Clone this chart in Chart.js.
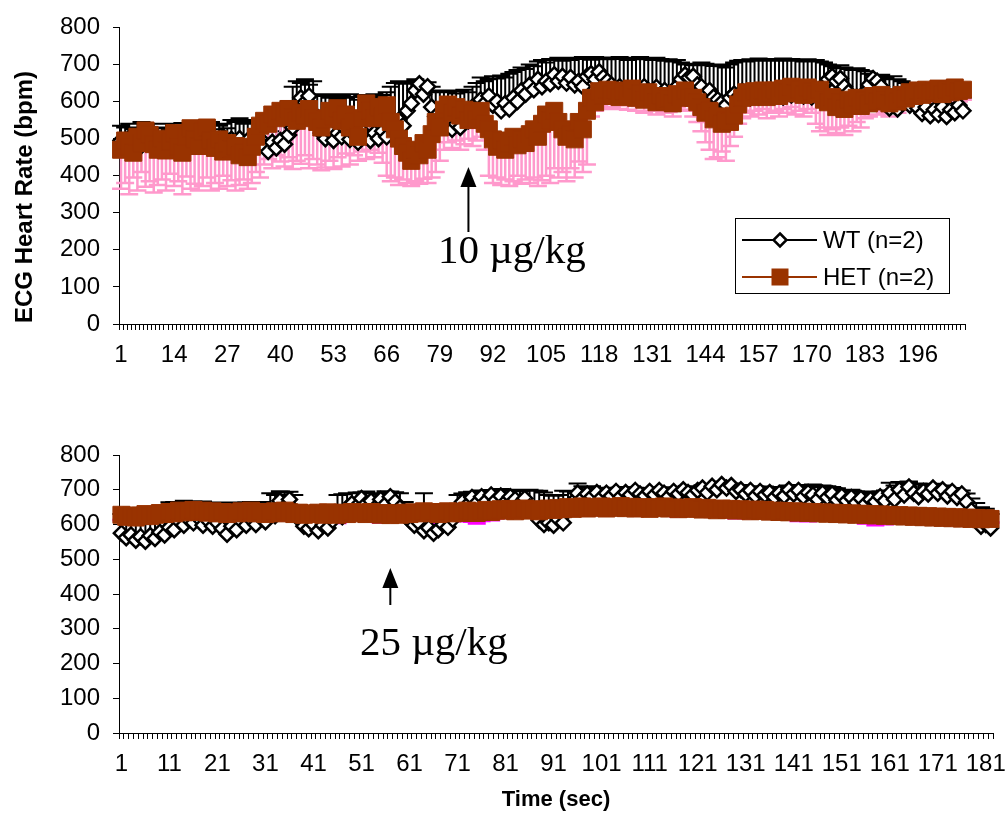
<!DOCTYPE html>
<html>
<head>
<meta charset="utf-8">
<script src="https://cdn.jsdelivr.net/npm/chart.js@4.4.1/dist/chart.umd.min.js"></script>
<style>
  html, body { margin: 0; padding: 0; background: #fff; }
  body { width: 1008px; height: 817px; position: relative; overflow: hidden; }
  canvas { position: absolute; left: 0; }
</style>
</head>
<body>
<canvas id="doseTen" width="1008" height="395" style="top:0px"></canvas>
<canvas id="doseTwentyFive" width="1008" height="417" style="top:400px"></canvas>
<script>
// ---- 10 µg/kg run: mean heart rate (bpm) per second, with SD ----
const wtTop = [
  495, 478, 502, 485, 470, 498, 510, 488, 500, 475,
  492, 505, 480, 498, 470, 488, 505, 492, 510, 485,
  500, 482, 495, 475, 490, 505, 478, 498, 485, 500,
  480, 495, 470, 488, 500, 478, 465, 490, 475, 495,
  485, 510, 530, 575, 610, 598, 615, 570, 535, 515,
  500, 520, 495, 515, 505, 525, 498, 512, 490, 520,
  505, 495, 515, 500, 520, 505, 530, 515, 550, 535,
  575, 595, 630, 648, 620, 640, 585, 560, 535, 550,
  545, 525, 540, 530, 560, 548, 585, 570, 605, 595,
  615, 590, 600, 575, 595, 580, 610, 600, 630, 620,
  645, 632, 660, 640, 655, 648, 672, 655, 668, 650,
  665, 645, 655, 640, 668, 675, 660, 680, 665, 655,
  645, 630, 640, 625, 632, 615, 628, 620, 640, 630,
  625, 638, 615, 630, 620, 612, 640, 660, 672, 665,
  668, 645, 640, 620, 630, 612, 605, 598, 590, 610,
  620, 612, 628, 618, 610, 622, 612, 630, 618, 628,
  620, 632, 612, 625, 618, 635, 622, 615, 628, 612,
  630, 622, 645, 660, 668, 655, 662, 640, 625, 608,
  612, 600, 625, 645, 662, 655, 640, 595, 582, 590,
  580, 598, 605, 590, 600, 582, 568, 585, 562, 578,
  565, 585, 560, 578, 570, 590, 575
];
const wtTopErr = [
  40, 52, 38, 40, 60, 47, 25, 42, 40, 53,
  38, 35, 45, 37, 60, 54, 23, 43, 35, 45,
  38, 48, 50, 50, 45, 35, 50, 52, 60, 55,
  60, 55, 75, 37, 15, 52, 80, 30, 65, 60,
  75, 90, 110, 80, 40, 62, 30, 85, 85, 100,
  115, 90, 125, 90, 110, 85, 122, 100, 115, 98,
  110, 115, 105, 112, 98, 120, 110, 135, 105, 113,
  80, 55, 30, 7, 28, 12, 55, 70, 90, 78,
  80, 105, 82, 98, 72, 77, 55, 80, 60, 60,
  45, 78, 62, 95, 70, 95, 70, 85, 62, 68,
  55, 63, 48, 72, 50, 67, 40, 63, 42, 66,
  47, 73, 60, 80, 48, 38, 60, 37, 54, 59,
  73, 85, 80, 91, 80, 103, 87, 100, 74, 87,
  87, 80, 100, 80, 94, 96, 72, 45, 28, 37,
  30, 55, 65, 82, 68, 84, 95, 97, 102, 90,
  85, 98, 84, 90, 104, 88, 104, 82, 97, 82,
  94, 78, 104, 87, 97, 75, 90, 93, 86, 98,
  82, 86, 60, 40, 27, 35, 36, 52, 63, 77,
  78, 85, 57, 30, 8, 13, 32, 70, 78, 78,
  80, 57, 45, 55, 40, 53, 60, 45, 58, 37,
  45, 30, 45, 34, 38, 25, 35
];
const hetTop = [
  470, 495, 478, 462, 505, 488, 522, 510, 485, 470,
  500, 468, 492, 515, 478, 462, 505, 528, 498, 480,
  518, 530, 495, 475, 498, 465, 488, 472, 480, 455,
  462, 450, 478, 505, 535, 548, 540, 565, 555, 575,
  568, 580, 558, 548, 570, 562, 580, 555, 545, 530,
  552, 575, 560, 582, 548, 565, 530, 545, 505, 555,
  595, 575, 555, 585, 560, 590, 545, 525, 500, 480,
  462, 440, 470, 455, 488, 470, 512, 545, 530, 578,
  592, 570, 585, 562, 578, 550, 568, 552, 575, 540,
  525, 498, 478, 495, 470, 488, 505, 482, 498, 488,
  512, 525, 505, 540, 565, 550, 575, 545, 525, 505,
  512, 498, 545, 525, 575, 610, 598, 628, 615, 632,
  618, 630, 612, 628, 620, 635, 610, 622, 605, 625,
  612, 598, 615, 600, 608, 595, 620, 612, 630, 610,
  610, 598, 585, 570, 575, 552, 560, 540, 548, 545,
  562, 592, 610, 625, 612, 628, 618, 630, 612, 622,
  630, 615, 635, 625, 640, 622, 632, 618, 638, 628,
  620, 632, 605, 598, 612, 585, 598, 580, 605, 592,
  610, 588, 602, 595, 615, 600, 618, 605, 595, 612,
  600, 618, 608, 625, 615, 630, 618, 632, 622, 628,
  635, 620, 632, 625, 638, 628, 632
];
const hetTopErr = [
  105, 115, 128, 67, 145, 78, 152, 125, 130, 95,
  110, 108, 87, 143, 93, 112, 107, 163, 120, 120,
  146, 135, 135, 95, 133, 65, 116, 84, 120, 80,
  72, 85, 98, 95, 140, 118, 95, 145, 100, 137,
  143, 130, 140, 108, 138, 107, 160, 110, 115, 115,
  130, 135, 142, 132, 123, 105, 100, 90, 65, 90,
  150, 105, 105, 123, 125, 190, 160, 130, 125, 90,
  82, 68, 85, 77, 96, 90, 117, 135, 90, 108,
  102, 95, 90, 92, 93, 50, 88, 57, 70, 70,
  125, 118, 83, 120, 80, 116, 120, 82, 120, 98,
  132, 130, 133, 152, 165, 170, 155, 150, 115, 120,
  92, 103, 107, 115, 145, 50, 23, 38, 35, 37,
  33, 32, 32, 38, 42, 40, 35, 34, 35, 33,
  37, 33, 35, 30, 36, 35, 35, 34, 38, 35,
  50, 53, 65, 80, 105, 107, 110, 75, 108, 65,
  57, 52, 55, 55, 52, 53, 53, 50, 57, 52,
  55, 55, 55, 55, 55, 57, 57, 58, 58, 58,
  80, 112, 75, 88, 87, 70, 68, 70, 70, 72,
  65, 58, 47, 35, 40, 35, 38, 35, 35, 34,
  30, 33, 30, 35, 33, 35, 30, 32, 30, 30,
  35, 25, 27, 27, 30, 28, 27
];
const topTickLabels = [1, 14, 27, 40, 53, 66, 79, 92, 105, 118, 131, 144, 157, 170, 183, 196];
const topDoseSecond = 86;

// ---- 25 µg/kg run ----
const wtBottom = [
  575, 562, 570, 555, 565, 552, 568, 560, 578, 570,
  592, 585, 610, 598, 615, 605, 620, 598, 612, 595,
  605, 588, 572, 595, 585, 610, 598, 615, 600, 620,
  608, 640, 625, 668, 650, 672, 640, 615, 595, 588,
  600, 582, 598, 590, 612, 630, 622, 648, 660, 652,
  675, 660, 668, 650, 672, 658, 680, 665, 648, 625,
  612, 598, 605, 582, 590, 575, 585, 600, 592, 615,
  640, 665, 655, 678, 662, 680, 668, 685, 670, 682,
  665, 680, 672, 660, 675, 650, 630, 612, 600, 605,
  598, 615, 605, 640, 665, 690, 675, 688, 680, 692,
  678, 690, 682, 695, 680, 692, 685, 698, 688, 682,
  695, 685, 698, 690, 680, 695, 688, 700, 692, 685,
  698, 705, 692, 710, 700, 715, 705, 712, 695, 700,
  688, 698, 682, 695, 685, 692, 678, 690, 682, 700,
  688, 698, 680, 692, 685, 672, 690, 678, 688, 670,
  682, 668, 678, 662, 675, 660, 672, 665, 680, 668,
  690, 672, 700, 685, 708, 690, 680, 695, 688, 705,
  690, 700, 682, 695, 678, 688, 665, 640, 612, 595,
  600, 590
];
const wtBottomErr = [
  55, 70, 60, 80, 65, 85, 62, 80, 60, 72,
  72, 80, 55, 70, 50, 62, 45, 68, 50, 65,
  58, 75, 90, 68, 78, 52, 66, 50, 62, 45,
  45, 50, 60, 28, 42, 22, 45, 40, 55, 60,
  50, 65, 55, 60, 40, 55, 65, 42, 30, 40,
  18, 35, 22, 40, 16, 38, 15, 28, 42, 40,
  45, 55, 48, 108, 60, 70, 62, 50, 56, 40,
  45, 24, 38, 16, 32, 18, 30, 14, 28, 20,
  32, 18, 28, 36, 22, 50, 68, 85, 92, 80,
  85, 70, 92, 55, 30, 28, 35, 18, 30, 14,
  18, 12, 24, 10, 28, 14, 20, 8, 16, 22,
  10, 20, 8, 14, 26, 12, 18, 6, 16, 22,
  12, 8, 16, 6, 14, 8, 12, 6, 18, 14,
  20, 12, 28, 14, 24, 16, 30, 18, 26, 12,
  24, 16, 34, 18, 30, 36, 22, 32, 20, 34,
  18, 30, 22, 34, 20, 32, 18, 28, 16, 30,
  30, 40, 22, 34, 16, 28, 38, 20, 26, 12,
  22, 12, 20, 10, 18, 10, 24, 35, 50, 55,
  45, 40
];
const hetBottom = [
  628, 622, 626, 620, 625, 630, 624, 628, 633, 630,
  636, 632, 640, 635, 638, 642, 636, 640, 634, 638,
  632, 636, 630, 635, 632, 638, 634, 640, 632, 636,
  630, 634, 638, 632, 640, 635, 630, 634, 628, 632,
  630, 634, 628, 635, 632, 628, 634, 630, 636, 632,
  635, 630, 636, 632, 628, 633, 627, 632, 628, 634,
  630, 635, 632, 638, 633, 636, 630, 634, 638, 632,
  637, 633, 640, 636, 633, 638, 642, 636, 640, 644,
  640, 645, 638, 642, 646, 640, 644, 638, 642, 646,
  642, 647, 644, 650, 645, 648, 652, 646, 650, 648,
  652, 646, 650, 648, 653, 647, 651, 646, 650, 648,
  645, 650, 647, 652, 646, 649, 644, 648, 645, 650,
  646, 643, 648, 644, 641, 646, 642, 645, 640, 644,
  641, 638, 643, 639, 642, 637, 640, 636, 639, 635,
  638, 634, 637, 633, 636, 632, 635, 631, 634, 630,
  633, 629, 632, 628, 631, 627, 630, 626, 629, 625,
  628, 624, 627, 623, 626, 622, 625, 621, 624, 620,
  623, 619, 622, 618, 621, 617, 620, 616, 619, 615,
  618, 616
];
const hetBottomErr = [
  15, 18, 20, 16, 14, 12, 15, 18, 20, 17,
  14, 12, 10, 12, 15, 18, 16, 14, 12, 10,
  12, 14, 16, 18, 20, 18, 15, 12, 10, 12,
  14, 16, 18, 20, 22, 20, 18, 16, 14, 12,
  14, 16, 18, 20, 22, 24, 22, 20, 18, 16,
  14, 16, 18, 20, 22, 20, 18, 16, 14, 12,
  14, 16, 18, 20, 22, 24, 26, 24, 22, 20,
  22, 24, 26, 28, 30, 28, 26, 24, 22, 20,
  18, 16, 14, 12, 14, 16, 18, 20, 22, 20,
  18, 16, 14, 12, 10, 12, 14, 16, 18, 16,
  14, 12, 10, 12, 14, 16, 18, 16, 14, 12,
  10, 12, 14, 16, 18, 20, 22, 20, 18, 16,
  14, 12, 10, 12, 14, 16, 18, 20, 22, 24,
  22, 20, 18, 16, 14, 12, 14, 16, 18, 20,
  22, 24, 26, 24, 22, 20, 18, 16, 14, 12,
  14, 16, 18, 20, 22, 24, 26, 28, 26, 24,
  22, 20, 18, 16, 14, 12, 14, 16, 18, 20,
  18, 16, 14, 12, 14, 16, 18, 16, 14, 12,
  12, 10
];
const bottomTickLabels = [1, 11, 21, 31, 41, 51, 61, 71, 81, 91, 101, 111, 121, 131, 141, 151, 161, 171, 181];
const bottomDoseSecond = 57;

// ---- styling ----
const SANS = 'Arial, "Liberation Sans", sans-serif';
const SERIF = '"Times New Roman", "Liberation Serif", serif';
const HET_COLOR = '#993300';
Chart.defaults.font.family = SANS;
Chart.defaults.color = '#000';

// Vertical error bars: WT upward (+SD), HET downward (-SD)
function errorBarPlugin(bars) {
  return {
    id: 'errorBars',
    beforeDatasetsDraw(chart) {
      const { ctx, scales: { x, y } } = chart;
      const cap = 18;
      bars.forEach(b => {
        ctx.save();
        ctx.strokeStyle = b.color;
        ctx.lineWidth = b.width;
        ctx.beginPath();
        b.values.forEach((v, i) => {
          const px = x.getPixelForValue(i);
          const p0 = y.getPixelForValue(v);
          const p1 = y.getPixelForValue(v + b.dir * b.errors[i]);
          ctx.moveTo(px, p0); ctx.lineTo(px, p1);
          ctx.moveTo(px - cap / 2, p1); ctx.lineTo(px + cap / 2, p1);
        });
        ctx.stroke();
        ctx.restore();
      });
    }
  };
}

function doseArrow(ctx, x, yTip, yBase, text, textLeft, textBase) {
  ctx.save();
  ctx.strokeStyle = '#000'; ctx.fillStyle = '#000'; ctx.lineWidth = 2;
  ctx.beginPath(); ctx.moveTo(x, yBase); ctx.lineTo(x, yTip + 16); ctx.stroke();
  ctx.beginPath(); ctx.moveTo(x, yTip); ctx.lineTo(x - 8, yTip + 20); ctx.lineTo(x + 8, yTip + 20); ctx.closePath(); ctx.fill();
  ctx.font = '41px ' + SERIF;
  ctx.textAlign = 'left'; ctx.textBaseline = 'alphabetic';
  ctx.fillText(text, textLeft, textBase);
  ctx.restore();
}

function makeChart(id, o) {
  const labels = o.wt.map((_, i) => i + 1);
  const tickSet = new Set(o.tickLabels.map(String));
  return new Chart(document.getElementById(id), {
    type: 'line',
    data: {
      labels,
      datasets: [
        {
          label: 'WT (n=2)', data: o.wt, order: 2,
          borderColor: '#000', borderWidth: 1.5,
          pointStyle: 'rectRot', pointRadius: 7.5, pointBorderWidth: 2.5,
          pointBorderColor: '#000', pointBackgroundColor: '#fff'
        },
        {
          label: 'HET (n=2)', data: o.het, order: 1,
          borderColor: HET_COLOR, borderWidth: 2,
          pointStyle: 'rect', pointRadius: 12, pointBorderWidth: 1,
          pointBorderColor: HET_COLOR, pointBackgroundColor: HET_COLOR
        }
      ]
    },
    options: {
      responsive: false, animation: false,
      layout: { autoPadding: false, padding: o.padding },
      plugins: { legend: { display: false }, tooltip: { enabled: false } },
      scales: {
        x: {
          type: 'category', offset: true,
          grid: { offset: true, drawOnChartArea: false, drawTicks: true, tickLength: 6, color: '#000', lineWidth: 1 },
          border: { display: true, color: '#000', width: 1 },
          ticks: {
            autoSkip: false, maxRotation: 0, minRotation: 0, padding: 11,
            font: { size: 24 }, color: '#000',
            callback(value) { const s = this.getLabelForValue(value); return tickSet.has(String(s)) ? String(s) : ''; }
          },
          afterFit(s) { s.height = o.xAxisHeight; }
        },
        y: {
          min: 0, max: 800,
          grid: { drawOnChartArea: false, drawTicks: true, tickLength: 6, color: '#000' },
          border: { display: true, color: '#000', width: 1 },
          ticks: { stepSize: 100, padding: 13, font: { size: 24 }, color: '#000' },
          afterFit(s) { s.width = 119; }
        }
      }
    },
    plugins: [errorBarPlugin(o.bars), { id: 'notes', afterDraw: o.notes }]
  });
}

makeChart('doseTen', {
  wt: wtTop, het: hetTop, tickLabels: topTickLabels,
  padding: { top: 23, right: 43, left: 0, bottom: 0 }, xAxisHeight: 71,
  bars: [
    { values: wtTop, errors: wtTopErr, dir: 1, color: '#000', width: 2 },
    { values: hetTop, errors: hetTopErr, dir: -1, color: '#ff99cc', width: 2.5 }
  ],
  notes(chart) {
    const ctx = chart.ctx;
    const x = chart.scales.x.getPixelForValue(topDoseSecond - 1);
    doseArrow(ctx, x, 167, 232, '10 \u00b5g/kg', 438, 263);
    // y axis title
    ctx.save();
    ctx.translate(25, 197); ctx.rotate(-Math.PI / 2);
    ctx.font = 'bold 24px ' + SANS; ctx.textAlign = 'center'; ctx.textBaseline = 'middle';
    ctx.fillText('ECG Heart Rate (bpm)', 0, 0);
    ctx.restore();
    // legend
    ctx.save();
    ctx.strokeStyle = '#000'; ctx.lineWidth = 1;
    ctx.strokeRect(735.5, 218.5, 214, 75);
    ctx.lineWidth = 2;
    ctx.beginPath(); ctx.moveTo(742, 240); ctx.lineTo(817, 240); ctx.stroke();
    ctx.beginPath(); ctx.moveTo(780, 233.5); ctx.lineTo(786.5, 240); ctx.lineTo(780, 246.5); ctx.lineTo(773.5, 240); ctx.closePath();
    ctx.fillStyle = '#fff'; ctx.fill(); ctx.lineWidth = 2.5; ctx.stroke();
    ctx.strokeStyle = HET_COLOR; ctx.lineWidth = 2;
    ctx.beginPath(); ctx.moveTo(742, 277); ctx.lineTo(817, 277); ctx.stroke();
    ctx.fillStyle = HET_COLOR; ctx.fillRect(771.5, 268.5, 17, 17);
    ctx.fillStyle = '#000'; ctx.font = '24px ' + SANS; ctx.textAlign = 'left'; ctx.textBaseline = 'middle';
    ctx.fillText('WT (n=2)', 823, 241);
    ctx.fillText('HET (n=2)', 823, 278);
    ctx.restore();
  }
});

makeChart('doseTwentyFive', {
  wt: wtBottom, het: hetBottom, tickLabels: bottomTickLabels,
  padding: { top: 55, right: 15, left: 0, bottom: 0 }, xAxisHeight: 84,
  bars: [
    { values: wtBottom, errors: wtBottomErr, dir: 1, color: '#000', width: 2 },
    { values: hetBottom, errors: hetBottomErr, dir: -1, color: '#ff00ff', width: 2.5 }
  ],
  notes(chart) {
    const ctx = chart.ctx;
    const x = chart.scales.x.getPixelForValue(bottomDoseSecond - 1);
    doseArrow(ctx, x, 168, 205, '25 \u00b5g/kg', 360, 255);
    const area = chart.chartArea;
    ctx.save();
    ctx.font = 'bold 22px ' + SANS; ctx.textAlign = 'center'; ctx.textBaseline = 'middle';
    ctx.fillText('Time (sec)', (area.left + area.right) / 2, 400);
    ctx.restore();
  }
});
</script>
</body>
</html>
